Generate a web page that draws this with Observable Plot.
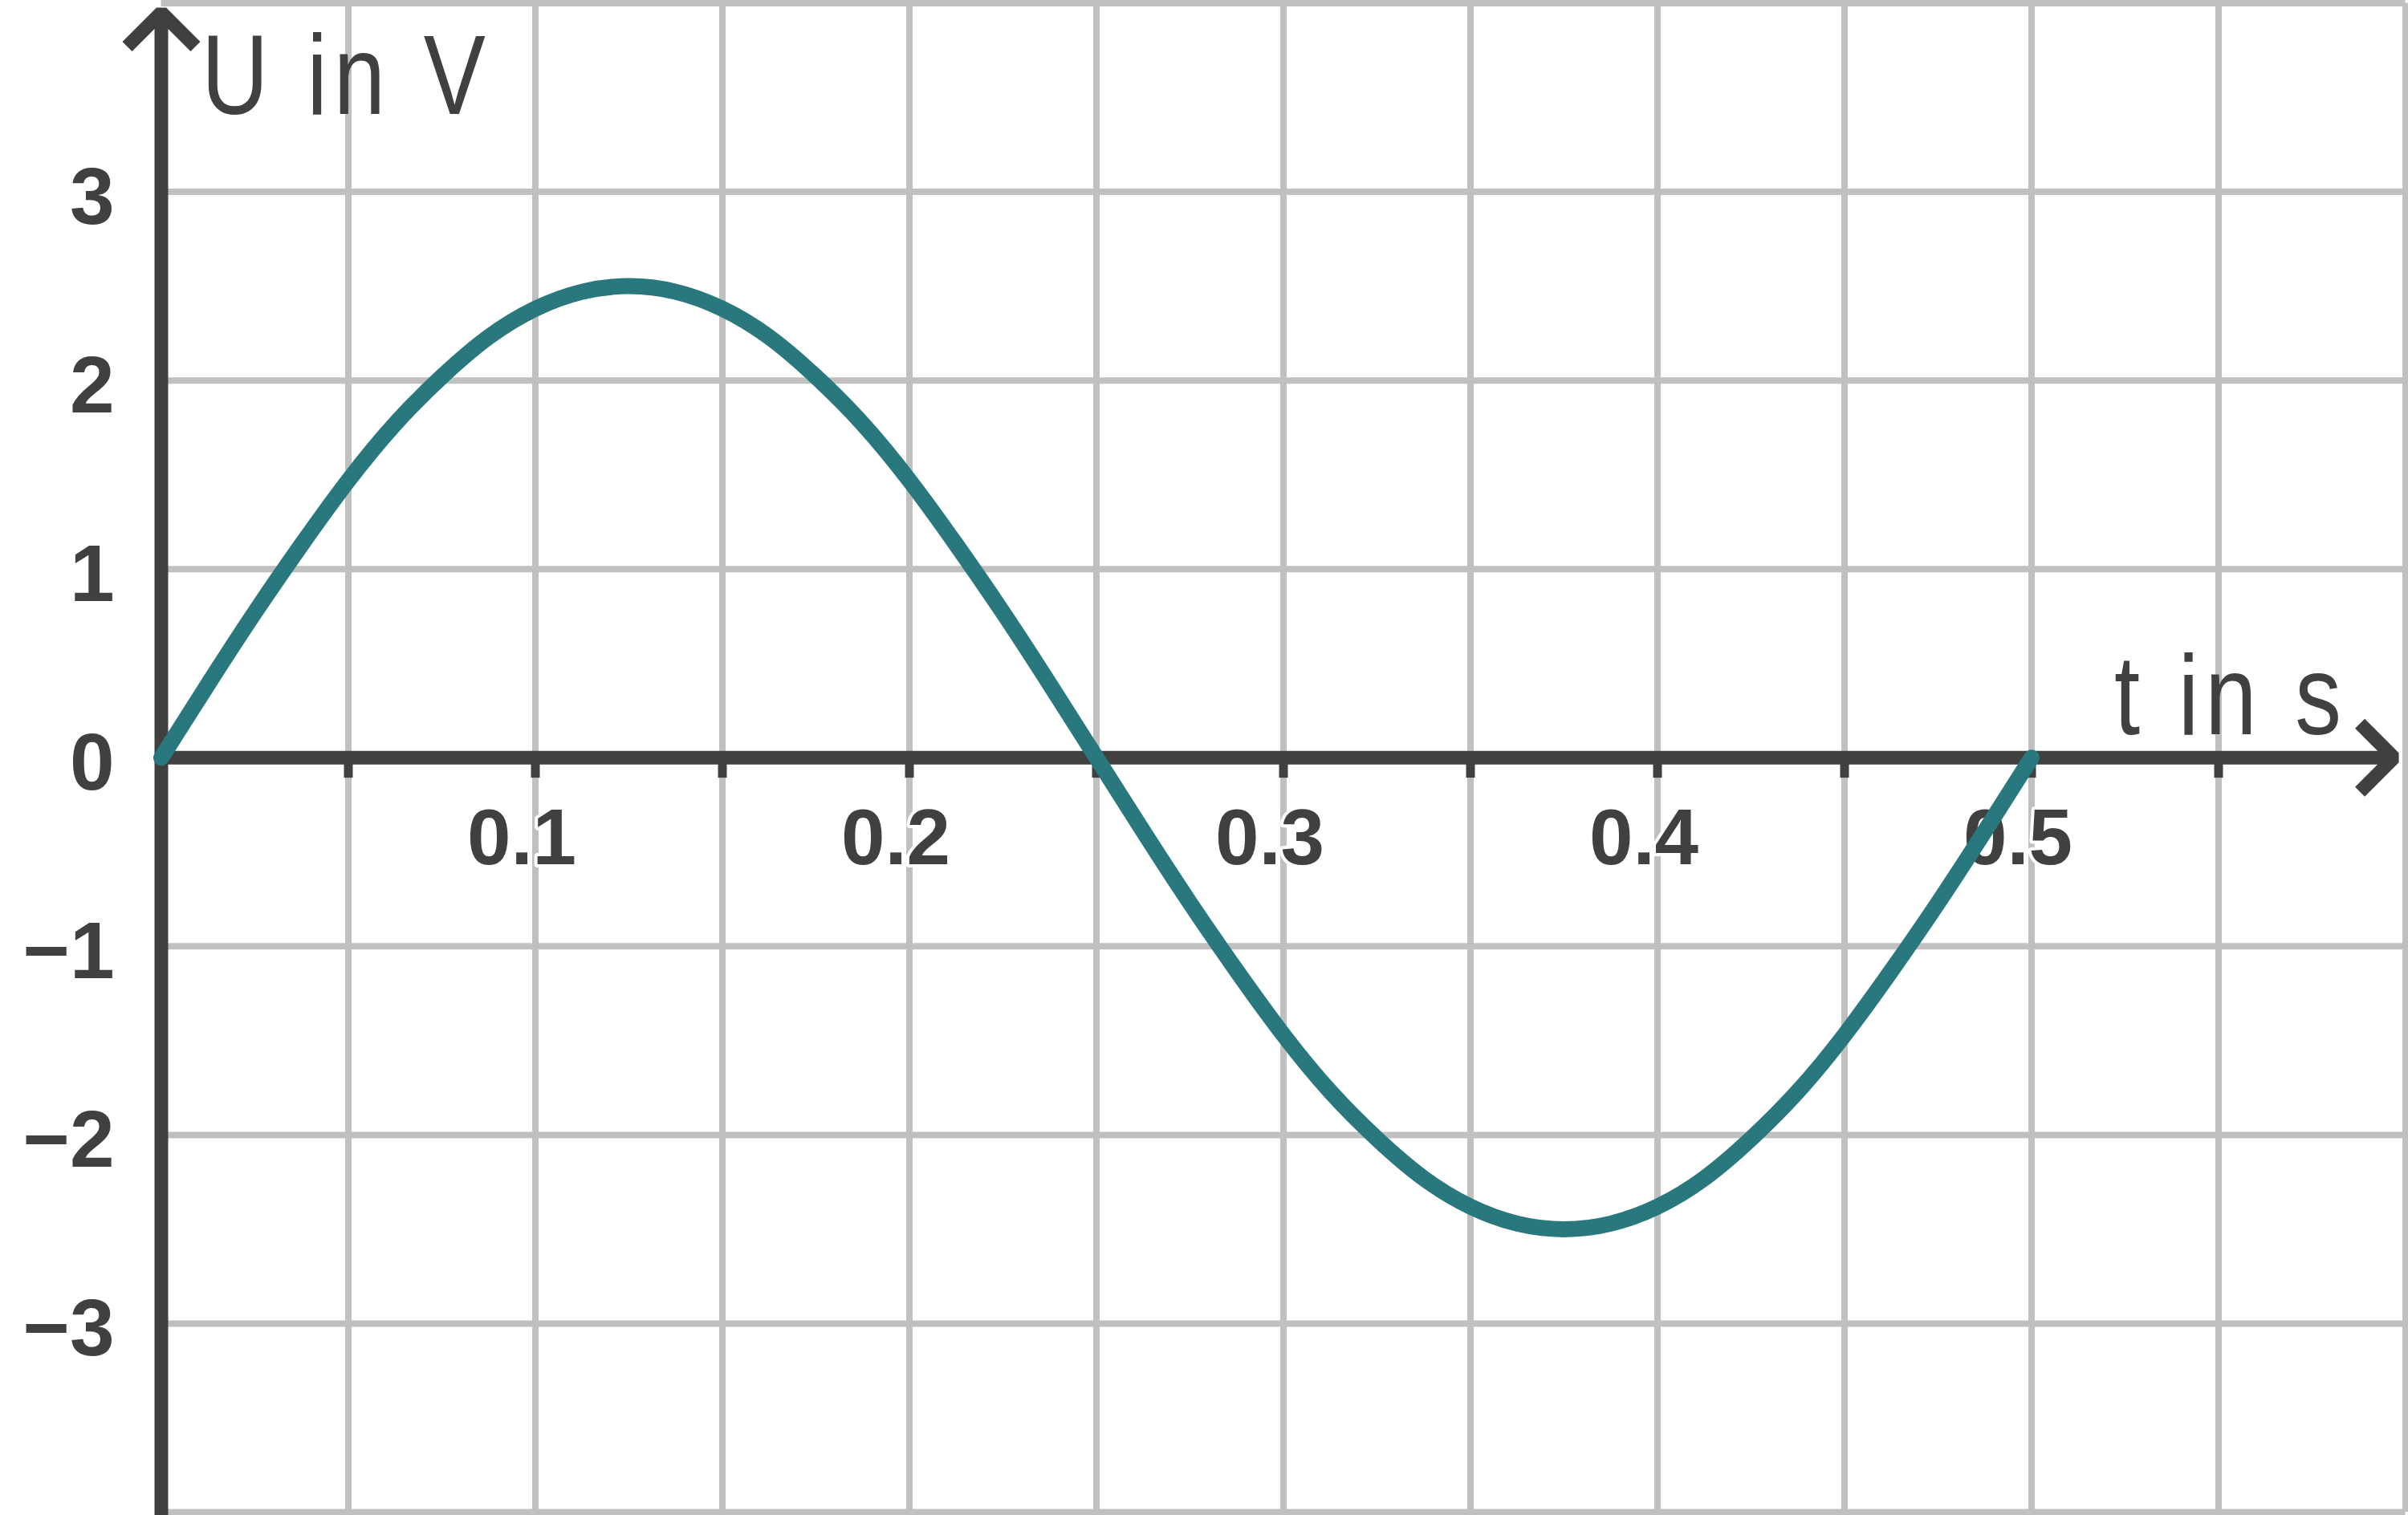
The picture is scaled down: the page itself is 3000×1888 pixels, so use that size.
<!DOCTYPE html>
<html>
<head>
<meta charset="utf-8">
<script src="https://cdn.jsdelivr.net/npm/d3@7"></script>
<script src="https://cdn.jsdelivr.net/npm/@observablehq/plot@0.6"></script>
<style>
  html, body { margin: 0; padding: 0; background: #ffffff; }
  #chart svg { display: block; }
</style>
</head>
<body>
<div id="chart"></div>
<script>
// ---- Data ----
const tValues = [0, 0.0125, 0.025, 0.0375, 0.05, 0.0625, 0.075, 0.0875, 0.1, 0.1125,
  0.125, 0.1375, 0.15, 0.1625, 0.175, 0.1875, 0.2, 0.2125, 0.225, 0.2375,
  0.25, 0.2625, 0.275, 0.2875, 0.3, 0.3125, 0.325, 0.3375, 0.35, 0.3625,
  0.375, 0.3875, 0.4, 0.4125, 0.425, 0.4375, 0.45, 0.4625, 0.475, 0.4875, 0.5];
const uValues = [0, 0.39, 0.77, 1.13, 1.47, 1.77, 2.02, 2.23, 2.38, 2.47,
  2.50, 2.47, 2.38, 2.23, 2.02, 1.77, 1.47, 1.13, 0.77, 0.39,
  0, -0.39, -0.77, -1.13, -1.47, -1.77, -2.02, -2.23, -2.38, -2.47,
  -2.50, -2.47, -2.38, -2.23, -2.02, -1.77, -1.47, -1.13, -0.77, -0.39, 0];

const xDomain = [0, 0.6];
const yDomain = [-4, 4];
const xGridValues = [0.05, 0.1, 0.15, 0.2, 0.25, 0.3, 0.35, 0.4, 0.45, 0.5, 0.55, 0.6];
const yGridValues = [-4, -3, -2, -1, 1, 2, 3, 4];
const xTickMarkValues = [0.05, 0.1, 0.15, 0.2, 0.25, 0.3, 0.35, 0.4, 0.45, 0.5, 0.55];
const xTickValues = [0.1, 0.2, 0.3, 0.4, 0.5];
const xTickLabels = ["0.1", "0.2", "0.3", "0.4", "0.5"];
const yTickValues = [3, 2, 1, 0, -1, -2, -3];
const yTickLabels = ["3", "2", "1", "0", "\u22121", "\u22122", "\u22123"];
const xAxisTitle = "t in s";
const yAxisTitle = "U in V";
// axis line extents (data units)
const xAxisStart = 0, xAxisEnd = 0.5969;
const yAxisStart = -4.02, yAxisEnd = 3.951;
const tickDepth = -0.108;

// ---- Build tables ----
const curveData = tValues.map((t, i) => ({t, u: uValues[i]}));
const xLabelData = xTickValues.map((v, i) => ({v, label: xTickLabels[i]}));
const yLabelData = yTickValues.map((v, i) => ({v, label: yTickLabels[i]}));
const axisData = [
  {x1: 0, y1: yAxisStart, x2: 0, y2: yAxisEnd},
  {x1: xAxisStart, y1: 0, x2: xAxisEnd, y2: 0}
];

const ink = "#404040";
const gridColor = "#c0c0c0";
const curveColor = "#28787e";
const titleFont = "'Liberation Sans', Arial, sans-serif";

const chart = Plot.plot({
  width: 3000,
  height: 1888,
  marginLeft: 200.5,
  marginRight: 3.5,
  marginTop: 3.5,
  marginBottom: 4,
  x: {domain: xDomain, axis: null},
  y: {domain: yDomain, axis: null},
  style: {background: "#ffffff", fontFamily: "'Liberation Sans', Arial, sans-serif", color: ink},
  marks: [
    Plot.ruleX(xGridValues, {x: d => d, stroke: gridColor, strokeWidth: 8}),
    Plot.ruleY(yGridValues, {y: d => d, stroke: gridColor, strokeWidth: 8}),
    Plot.text(xLabelData, {
      x: "v", y: () => 0, text: "label",
      fontSize: 98, fontWeight: "bold", fill: ink,
      stroke: "#ffffff", strokeWidth: 8,
      textAnchor: "middle", lineAnchor: "top", dx: -17, dy: 63.5
    }),
    Plot.text(yLabelData, {
      x: () => 0, y: "v", text: "label",
      fontSize: 100, fontWeight: "bold", fill: ink,
      textAnchor: "end", lineAnchor: "middle", dx: -58.5, dy: 8
    }),
    Plot.ruleX(xTickMarkValues, {x: d => d, y1: () => 0, y2: () => tickDepth, stroke: ink, strokeWidth: 11}),
    Plot.arrow(axisData, {
      x1: "x1", y1: "y1", x2: "x2", y2: "y2",
      stroke: ink, strokeWidth: 17, headAngle: 90, headLength: 5.3,
      strokeLinejoin: "bevel", strokeLinecap: "butt"
    }),
    Plot.text([yAxisTitle], {
      text: d => d, frameAnchor: "top-left", textAnchor: "start", lineAnchor: "bottom",
      dx: 50, dy: 138, fontSize: 141, fontFamily: titleFont, fill: ink
    }),
    Plot.text([xAxisTitle], {
      text: d => d, frameAnchor: "top-left", textAnchor: "start", lineAnchor: "bottom",
      dx: 2433, dy: 910.5, fontSize: 141, fontFamily: titleFont, fill: ink
    }),
    Plot.line(curveData, {
      x: "t", y: "u", stroke: curveColor, strokeWidth: 20,
      curve: "natural", strokeLinecap: "round", strokeLinejoin: "round"
    })
  ]
});

// condensed look for the axis titles
d3.select(chart).selectAll("text")
  .filter(function () { return this.textContent === xAxisTitle || this.textContent === yAxisTitle; })
  .attr("letter-spacing", 9.5)
  .attr("transform", function () {
    const t = this.getAttribute("transform") || "";
    return t + " scale(0.82,1)";
  });

document.getElementById("chart").appendChild(chart);
</script>
</body>
</html>
